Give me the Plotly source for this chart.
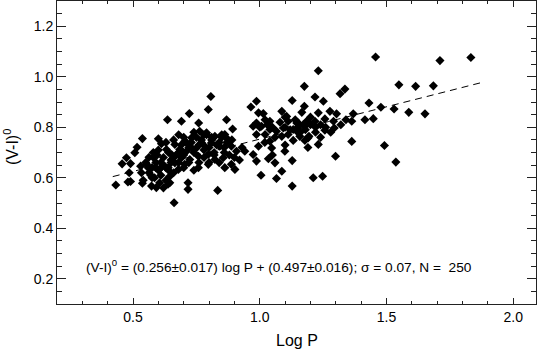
import plotly.graph_objects as go

# Estimated data
logP = [
    0.432, 0.457, 0.474, 0.490, 0.485, 0.480, 0.490, 0.507, 0.516, 0.537, 0.530, 0.554, 0.563, 0.537, 0.533, 0.563,
    0.540, 0.573, 0.592, 0.605, 0.600, 0.612, 0.585, 0.575, 0.590, 0.580, 0.595, 0.600, 0.610, 0.620, 0.630, 0.575,
    0.807, 0.797, 0.722, 0.691, 0.636, 0.759, 0.869, 0.893, 0.763, 0.790, 0.823, 0.862, 0.875, 0.731, 0.704, 0.665,
    0.632, 0.652, 0.684, 0.711, 0.750, 0.783, 0.809, 0.842, 0.888, 0.908, 0.941, 0.758, 0.797, 0.823, 0.856, 0.888,
    0.902, 0.862, 0.724, 0.691, 0.665, 0.704, 0.639, 0.679, 0.758, 0.797, 0.645, 0.645, 0.717, 0.717, 0.834, 0.662,
    0.638,
    0.965, 0.987, 1.231, 1.176, 1.336, 1.317, 1.218, 1.251, 1.128, 1.176, 1.166, 1.087, 1.106, 0.995, 1.014, 1.231,
    1.277, 1.303, 1.218, 1.257, 1.291, 1.185, 1.152, 1.112, 1.040, 1.021, 0.987, 1.007, 1.093, 1.132, 1.178, 1.257,
    1.294, 1.040, 1.066, 1.112, 1.146, 1.158, 1.191, 1.087, 0.987, 1.021, 1.040, 1.132, 1.178, 1.231, 0.995, 1.047,
    1.099, 1.299, 0.987, 1.034, 1.060, 1.128, 1.087, 1.005, 1.066, 1.128, 1.211, 1.248, 0.974, 0.974, 1.146, 1.172,
    1.457, 1.711, 1.833, 1.549, 1.615, 1.685, 1.431, 1.478, 1.530, 1.588, 1.652, 1.369, 1.363, 1.415, 1.448, 1.363,
    1.492, 1.537, 1.194,
    0.62, 0.64, 0.66, 0.68, 0.70, 0.72, 0.74, 0.76, 0.78, 0.80, 0.82, 0.84, 0.86, 0.62, 0.64, 0.66,
    0.68, 0.70, 0.72, 0.74, 0.76, 0.78, 0.80, 0.82, 0.84, 0.86, 0.88, 0.61, 0.63, 0.65, 0.67, 0.69,
    0.71, 0.73, 0.75, 0.77, 0.79, 0.81, 0.83, 0.85, 0.87, 0.90, 0.92, 0.93, 0.89, 0.85, 0.81, 0.77,
    0.73, 0.69, 0.66, 0.63, 0.60, 0.58, 0.59, 0.57, 0.68, 0.70, 0.74, 0.78, 0.61, 0.65, 0.56, 0.55,
    1.00, 1.03, 1.05, 1.08, 1.10, 1.12, 1.15, 1.18, 1.20, 1.22, 1.24, 1.26, 1.10, 1.14, 1.20, 1.16,
    1.22, 1.02, 1.06, 1.10, 1.24, 1.28, 1.32, 1.34, 1.05, 1.19,
]
color_VI = [
    0.571, 0.655, 0.679, 0.656, 0.620, 0.583, 0.585, 0.699, 0.721, 0.755, 0.646, 0.653, 0.681, 0.578, 0.620, 0.620,
    0.590, 0.567, 0.561, 0.580, 0.754, 0.735, 0.600, 0.640, 0.660, 0.700, 0.690, 0.630, 0.610, 0.560, 0.590, 0.600,
    0.922, 0.870, 0.854, 0.824, 0.830, 0.817, 0.830, 0.793, 0.784, 0.778, 0.764, 0.771, 0.751, 0.758, 0.745, 0.732,
    0.712, 0.692, 0.712, 0.705, 0.718, 0.725, 0.738, 0.725, 0.725, 0.705, 0.705, 0.685, 0.692, 0.672, 0.679, 0.653,
    0.633, 0.640, 0.672, 0.679, 0.659, 0.653, 0.640, 0.633, 0.640, 0.653, 0.606, 0.580, 0.580, 0.554, 0.550, 0.501,
    0.574,
    0.880, 0.903, 1.024, 0.962, 0.951, 0.933, 0.920, 0.903, 0.906, 0.883, 0.859, 0.863, 0.843, 0.857, 0.854, 0.857,
    0.863, 0.853, 0.824, 0.833, 0.824, 0.824, 0.817, 0.824, 0.824, 0.830, 0.817, 0.804, 0.797, 0.791, 0.804, 0.788,
    0.797, 0.791, 0.784, 0.771, 0.784, 0.764, 0.758, 0.764, 0.771, 0.771, 0.745, 0.748, 0.748, 0.732, 0.725, 0.718,
    0.705, 0.685, 0.666, 0.675, 0.659, 0.668, 0.626, 0.610, 0.597, 0.567, 0.600, 0.606, 0.692, 0.804, 0.817, 0.810,
    1.078, 1.064, 1.076, 0.968, 0.962, 0.964, 0.896, 0.879, 0.872, 0.859, 0.853, 0.853, 0.824, 0.830, 0.834, 0.744,
    0.728, 0.662, 0.764,
    0.68, 0.70, 0.68, 0.70, 0.69, 0.72, 0.70, 0.73, 0.71, 0.72, 0.70, 0.74, 0.72, 0.65, 0.63, 0.62,
    0.66, 0.64, 0.66, 0.63, 0.66, 0.68, 0.66, 0.69, 0.66, 0.70, 0.69, 0.66, 0.64, 0.67, 0.69, 0.71,
    0.74, 0.72, 0.76, 0.74, 0.77, 0.75, 0.73, 0.77, 0.74, 0.68, 0.67, 0.72, 0.75, 0.76, 0.76, 0.75,
    0.74, 0.73, 0.75, 0.74, 0.71, 0.68, 0.64, 0.61, 0.77, 0.76, 0.78, 0.77, 0.64, 0.66, 0.64, 0.66,
    0.80, 0.81, 0.80, 0.82, 0.80, 0.79, 0.80, 0.79, 0.81, 0.80, 0.81, 0.80, 0.84, 0.83, 0.84, 0.78,
    0.78, 0.74, 0.76, 0.73, 0.76, 0.78, 0.81, 0.83, 0.69, 0.72,
]

fit_slope = 0.256
fit_intercept = 0.497
fit_x = [0.42, 1.88]
fit_y = [fit_slope * v + fit_intercept for v in fit_x]

x_ticks = [0.5, 1.0, 1.5, 2.0]
y_ticks = [0.2, 0.4, 0.6, 0.8, 1.0, 1.2]

FONT = "Liberation Sans, Arial, Helvetica, sans-serif"

fig = go.Figure()
fig.add_trace(go.Scatter(
    x=logP, y=color_VI, mode="markers",
    marker=dict(symbol="diamond", size=7, color="black", line=dict(width=0)),
    showlegend=False,
))
fig.add_trace(go.Scatter(
    x=fit_x, y=fit_y, mode="lines",
    line=dict(color="black", width=1, dash="7px,5px"),
    showlegend=False,
))

axis_common = dict(
    showline=True, linecolor="#222", linewidth=1, mirror="ticks",
    ticks="inside", tickcolor="#222", showgrid=False, zeroline=False,
    tickfont=dict(family=FONT, size=14, color="black"),
    tickformat=".1f",
)
fig.update_xaxes(range=[0.2, 2.09], tickvals=x_ticks, ticklen=6,
                 minor=dict(ticks="inside", ticklen=3, dtick=0.1, tickcolor="#222"),
                 **axis_common)
fig.update_yaxes(range=[0.1, 1.3], tickvals=y_ticks, ticklen=9,
                 minor=dict(ticks="inside", ticklen=5, dtick=0.05, tickcolor="#222"),
                 **axis_common)

fig.add_annotation(
    text="(V-I)<sup>0</sup> = (0.256±0.017) log P + (0.497±0.016); σ = 0.07, N = \u00a0250",
    x=0.305, y=0.25, xref="x", yref="y", xanchor="left", yanchor="middle",
    showarrow=False, font=dict(family=FONT, size=13.7, color="black"),
)
fig.add_annotation(
    text="Log P", x=0.5, y=-0.119, xref="paper", yref="paper",
    xanchor="center", yanchor="middle", showarrow=False,
    font=dict(family=FONT, size=16, color="black"),
)
fig.add_annotation(
    text="(V-I)<sup>0</sup>", x=-0.096, y=0.518, xref="paper", yref="paper",
    xanchor="center", yanchor="middle", showarrow=False, textangle=-90,
    font=dict(family=FONT, size=16, color="black"),
)

fig.update_layout(
    width=539, height=350,
    margin=dict(l=57, r=3, t=1, b=46),
    paper_bgcolor="white", plot_bgcolor="white",
)
fig.write_html("out.html", config={"displayModeBar": False},
               post_script="document.body.style.margin='0px';")
